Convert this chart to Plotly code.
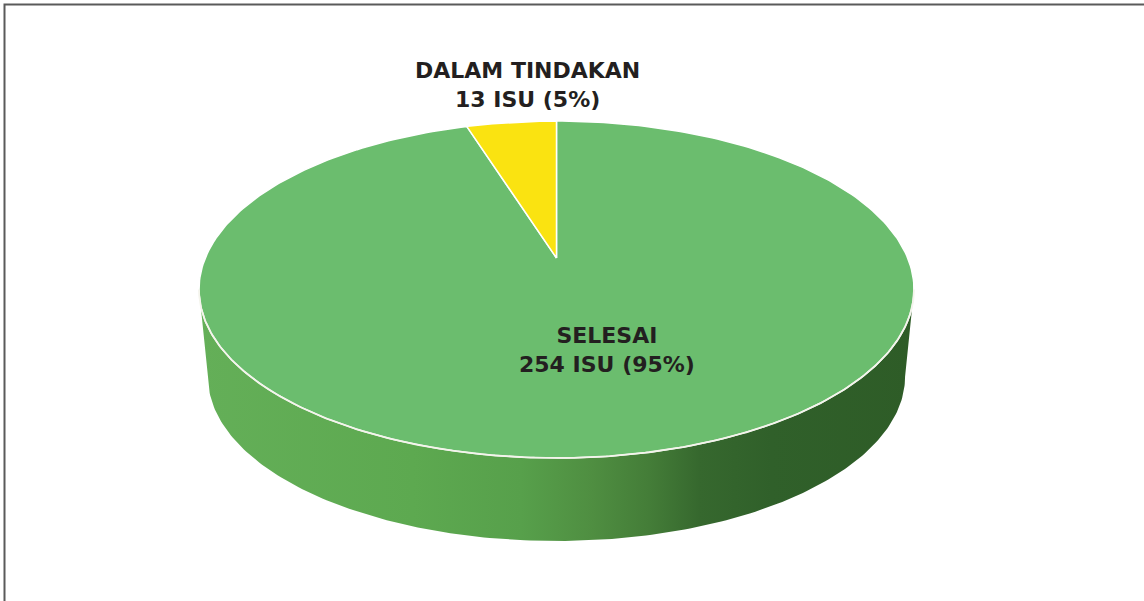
import numpy as np
import plotly.graph_objects as go

# ---- data ----
labels = ["SELESAI", "DALAM TINDAKAN"]
values = [254, 13]
unit = "ISU"
top_colors = ["#6bbd6e", "#fae311"]
side_scales = [
    [[0, "#64af58"], [0.3, "#5da950"], [0.45, "#57a04b"], [0.55, "#4f8e41"],
     [0.63, "#447d38"], [0.7, "#36682e"], [0.8, "#30602a"], [1, "#2e5c27"]],
    [[0, "#e8d20a"], [1, "#a89600"]],
]
label_pos = [(607, 350), (527, 85)]

# ---- geometry (pixel space) ----
W, H = 1144, 601
CX, CY = 556.5, 258.0
A, B, K = 351.2, 162.6, 0.187
DEPTH = 88
BOTTOM_SCALE = 0.975


def proj(theta, dy=0.0, s=1.0):
    u = np.sin(theta)
    v = np.cos(theta)
    d = 1 + K * v
    return CX + s * A * u / d, CY - s * B * v / d + dy


total = float(sum(values))
fracs = np.cumsum([0] + values) / total
starts = fracs[:-1] * 2 * np.pi
ends = fracs[1:] * 2 * np.pi

th_vis0 = np.arccos(-K)
th_vis1 = 2 * np.pi - th_vis0

fig = go.Figure()

# sides (front visible part)
for i in range(len(values)):
    a0 = max(starts[i], th_vis0)
    a1 = min(ends[i], th_vis1)
    if a1 <= a0:
        continue
    t = np.linspace(a0, a1, 200)
    xt, yt = proj(t)
    xb, yb = proj(t[::-1], DEPTH, BOTTOM_SCALE)
    xs = np.concatenate([xt, xb, xt[:1]])
    ys = np.concatenate([yt, yb, yt[:1]])
    fig.add_trace(go.Scatter(
        x=xs, y=ys, mode="lines", fill="toself",
        line=dict(width=0, color="rgba(0,0,0,0)"),
        fillgradient=dict(type="horizontal", colorscale=side_scales[i]),
        hoverinfo="skip", showlegend=False))

# top faces
for i in range(len(values)):
    t = np.linspace(starts[i], ends[i], 300)
    xa, ya = proj(t)
    xs = np.concatenate([[CX], xa, [CX]])
    ys = np.concatenate([[CY], ya, [CY]])
    fig.add_trace(go.Scatter(
        x=xs, y=ys, mode="lines", fill="toself", fillcolor=top_colors[i],
        line=dict(width=1.5, color="white"),
        name=labels[i], hoverinfo="skip", showlegend=False))

# white front edge
t = np.linspace(th_vis0, th_vis1, 300)
xe, ye = proj(t)
fig.add_trace(go.Scatter(x=xe, y=ye, mode="lines",
                         line=dict(width=1.8, color="#f4f4ec"),
                         hoverinfo="skip", showlegend=False))

# labels
for i in range(len(values)):
    pct = round(values[i] / total * 100)
    fig.add_annotation(
        x=label_pos[i][0], y=label_pos[i][1], xref="x", yref="y",
        text=f"<b>{labels[i]}<br>{values[i]} {unit} ({pct}%)</b>",
        showarrow=False, align="center",
        font=dict(family="DejaVu Sans", size=22, color="#231f20"))

# frame
fig.add_shape(type="rect", xref="paper", yref="paper",
              x0=4.5 / W, x1=1.02, y0=-0.02, y1=1 - 4.5 / H,
              line=dict(color="#5a5a5a", width=2), fillcolor="rgba(0,0,0,0)")

fig.update_layout(
    width=W, height=H,
    margin=dict(l=0, r=0, t=0, b=0),
    paper_bgcolor="white", plot_bgcolor="white",
    xaxis=dict(range=[0, W], visible=False, fixedrange=True),
    yaxis=dict(range=[H, 0], visible=False, fixedrange=True),
    showlegend=False,
)

fig.write_html(
    "out.html",
    config={"displayModeBar": False},
    post_script="document.body.style.margin='0';document.body.style.overflow='hidden';",
)
